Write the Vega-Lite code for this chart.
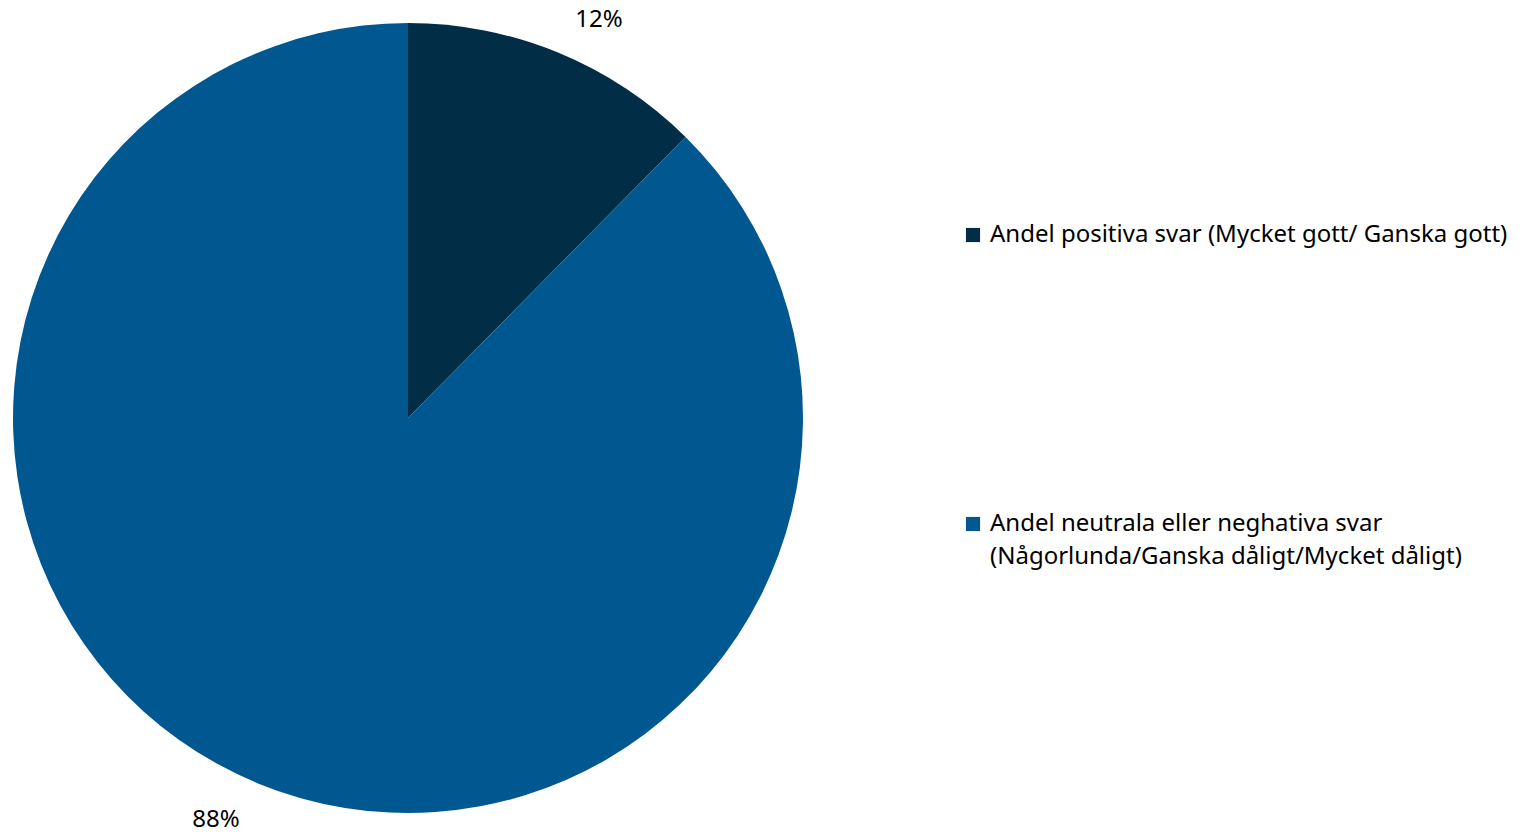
{
  "$schema": "https://vega.github.io/schema/vega-lite/v6.json",
  "width": 816,
  "height": 836,
  "autosize": "none",
  "padding": {"left": 0, "top": 0, "right": 704, "bottom": 0},
  "background": "white",
  "config": {"view": {"stroke": null}},
  "data": {
    "values": [
      {"kategori": "Andel positiva svar (Mycket gott/ Ganska gott)", "andel": 12.4, "ordning": 1, "etikett": "12%"},
      {"kategori": "Andel neutrala eller neghativa svar\n(Någorlunda/Ganska dåligt/Mycket dåligt)", "andel": 87.6, "ordning": 2, "etikett": "88%"}
    ]
  },
  "encoding": {
    "theta": {"field": "andel", "type": "quantitative", "stack": true},
    "order": {"field": "ordning", "type": "quantitative"}
  },
  "layer": [
    {
      "mark": {"type": "arc", "outerRadius": 395},
      "encoding": {
        "color": {
          "field": "kategori",
          "type": "nominal",
          "scale": {
            "domain": ["Andel positiva svar (Mycket gott/ Ganska gott)", "Andel neutrala eller neghativa svar\n(Någorlunda/Ganska dåligt/Mycket dåligt)"],
            "range": ["#012D47", "#015891"]
          },
          "legend": {
            "title": null,
            "orient": "none",
            "legendX": 961,
            "legendY": 223,
            "symbolType": "square",
            "symbolSize": 200,
            "symbolStrokeWidth": 0,
            "labelFont": "Noto Sans",
            "labelFontSize": 24,
            "labelColor": "black",
            "labelLimit": 0,
            "labelOffset": 5,
            "rowPadding": 265,
            "labelExpr": "split(datum.label, '\\n')",
            "encode": {"labels": {"update": {"lineHeight": {"value": 33}}}}
          }
        }
      }
    },
    {
      "mark": {"type": "text", "radius": 432, "dx": 27, "dy": 2, "font": "Noto Sans", "fontSize": 24, "color": "black"},
      "encoding": {
        "text": {"condition": {"test": "datum.ordning == 1", "field": "etikett"}, "value": ""}
      }
    },
    {
      "mark": {"type": "text", "radius": 432, "dx": -28, "dy": 2, "font": "Noto Sans", "fontSize": 24, "color": "black"},
      "encoding": {
        "text": {"condition": {"test": "datum.ordning == 2", "field": "etikett"}, "value": ""}
      }
    }
  ]
}
